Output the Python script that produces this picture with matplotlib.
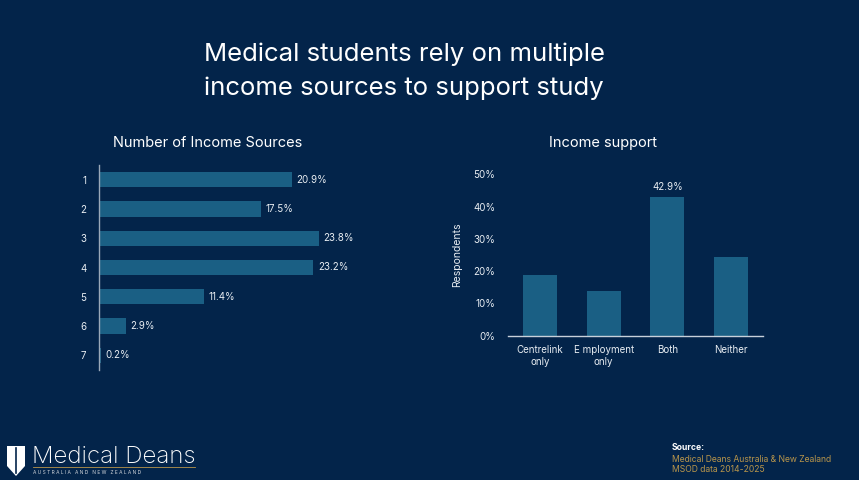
import matplotlib.pyplot as plt
from matplotlib.patches import Polygon

BG = '#03244a'
BAR = '#1a5f84'
TXT = '#e8edf2'
GOLD = '#b8954a'

# data
sources = ['1', '2', '3', '4', '5', '6', '7']
source_pct = [20.9, 17.5, 23.8, 23.2, 11.4, 2.9, 0.2]

support_cats = ['Centrelink\nonly', 'E mployment\nonly', 'Both', 'Neither']
support_pct = [18.8, 13.7, 42.9, 24.5]

plt.rcParams['font.family'] = ['Inter', 'DejaVu Sans']

W, H = 859, 480
fig = plt.figure(figsize=(W / 100, H / 100), dpi=100, facecolor=BG)


def px_axes(x0, y0, x1, y1):
    # pixel box (top-left origin) -> figure axes
    return fig.add_axes([x0 / W, 1 - y1 / H, (x1 - x0) / W, (y1 - y0) / H])


fig.text(404 / W, 1 - 71 / H, 'Medical students rely on multiple\nincome sources to support study',
         ha='center', va='center', color='white', fontsize=18.5, linespacing=1.58)

# left: number of income sources
ax1 = px_axes(99, 165, 376, 370)
ax1.set_facecolor(BG)
ypos = list(range(len(sources)))
ax1.barh(ypos, source_pct, height=0.52, color=BAR)
ax1.set_xlim(0, 30)
ax1.set_ylim(len(sources) - 0.5, -0.5)
ax1.set_yticks(ypos)
ax1.set_yticklabels(sources)
ax1.set_xticks([])
ax1.tick_params(axis='y', length=0, colors=TXT, labelsize=7, pad=9)
for s in ['top', 'right', 'bottom']:
    ax1.spines[s].set_visible(False)
ax1.spines['left'].set_color('#9aa8b8')
ax1.spines['left'].set_linewidth(1)
for y, v in zip(ypos, source_pct):
    ax1.text(v + 0.5, y, f'{v}%', va='center', ha='left', color=TXT, fontsize=7)
fig.text(208 / W, 1 - 143 / H, 'Number of Income Sources', ha='center', va='center',
         color='white', fontsize=10.5)

# right: income support
ax2 = px_axes(508, 174.3, 763, 335.7)
ax2.set_facecolor(BG)
xpos = list(range(len(support_cats)))
ax2.bar(xpos, support_pct, width=0.53, color=BAR)
ax2.set_xlim(-0.5, 3.5)
ax2.set_ylim(0, 50)
ax2.set_yticks([0, 10, 20, 30, 40, 50])
ax2.set_yticklabels(['0%', '10%', '20%', '30%', '40%', '50%'])
ax2.set_xticks(xpos)
ax2.set_xticklabels(support_cats)
ax2.tick_params(axis='both', length=0, colors=TXT, labelsize=7)
ax2.tick_params(axis='y', pad=9)
ax2.tick_params(axis='x', pad=7)
for s in ['top', 'right', 'left']:
    ax2.spines[s].set_visible(False)
ax2.spines['bottom'].set_color('#c8d0da')
ax2.spines['bottom'].set_linewidth(1)
ax2.set_ylabel('Respondents', color=TXT, fontsize=7.5, labelpad=8)
ax2.text(2, support_pct[2] + 1.5, f'{support_pct[2]}%', ha='center', va='bottom',
         color=TXT, fontsize=7)
fig.text(603 / W, 1 - 143 / H, 'Income support', ha='center', va='center',
         color='white', fontsize=10.5)

# footer logo
logo = fig.add_axes([0, 0, 1, 1], facecolor='none')
logo.set_xlim(0, W)
logo.set_ylim(H, 0)
logo.axis('off')
logo.add_patch(Polygon([(7, 446), (25, 446), (25, 466), (16, 476), (7, 466)],
                       closed=True, facecolor='white', edgecolor='none'))
logo.plot([16, 16], [448, 473], color=BG, lw=1.2)
logo.text(32, 457, 'Medical Deans', color='white', fontsize=17.3, va='center', ha='left',
          fontweight='light')
logo.plot([33, 195], [467, 467], color=GOLD, lw=0.6)
logo.text(33, 472, 'A U S T R A L I A   A N D   N E W   Z E A L A N D', color='#d0d4da',
          fontsize=3.5, va='center', ha='left')

fig.text(672 / W, 1 - 447 / H, 'Source:', color='white', fontsize=6.2, fontweight='bold',
         va='center', ha='left')
fig.text(672 / W, 1 - 459 / H, 'Medical Deans Australia & New Zealand', color=GOLD,
         fontsize=6.2, va='center', ha='left')
fig.text(672 / W, 1 - 470 / H, 'MSOD data 2014-2025', color=GOLD, fontsize=6.2,
         va='center', ha='left')

fig.savefig('out.png', dpi=100, facecolor=BG)
